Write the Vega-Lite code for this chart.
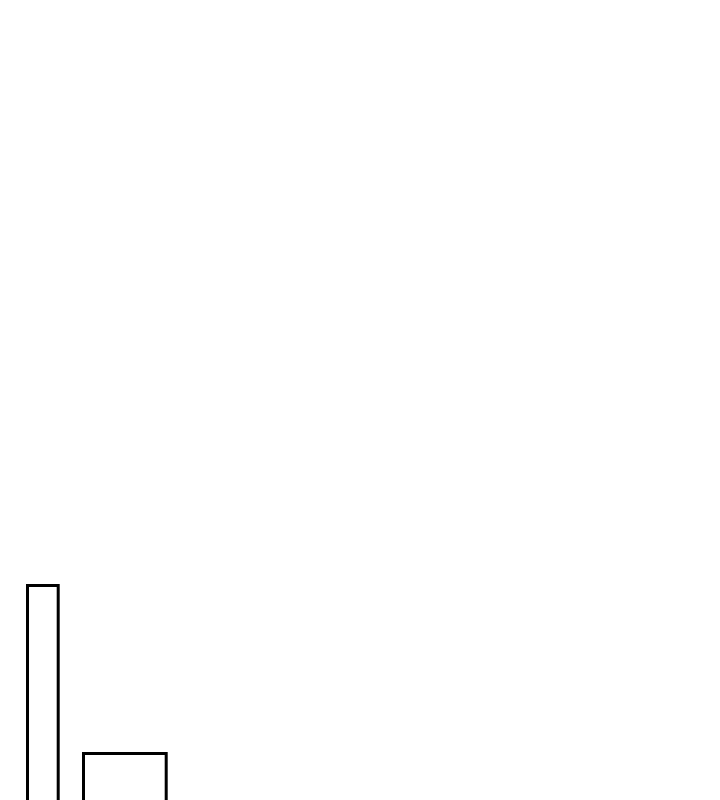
{
  "$schema": "https://vega.github.io/schema/vega-lite/v6.json",
  "width": 720,
  "height": 800,
  "autosize": {"type": "fit", "contains": "padding"},
  "padding": 0,
  "background": "white",
  "config": {"view": {"stroke": null}},
  "data": {
    "values": [
      {"name": "A", "start": 27.5, "end": 58.2, "top": 214.5, "base": -20},
      {"name": "B", "start": 83.5, "end": 166.2, "top": 46.5, "base": -20}
    ]
  },
  "mark": {"type": "rect", "fill": "white", "stroke": "black", "strokeWidth": 3, "clip": true},
  "encoding": {
    "x": {"field": "start", "type": "quantitative", "scale": {"domain": [0, 720], "nice": false, "zero": false}, "axis": null},
    "x2": {"field": "end"},
    "y": {"field": "base", "type": "quantitative", "scale": {"domain": [0, 800], "nice": false, "zero": false}, "axis": null},
    "y2": {"field": "top"}
  }
}
